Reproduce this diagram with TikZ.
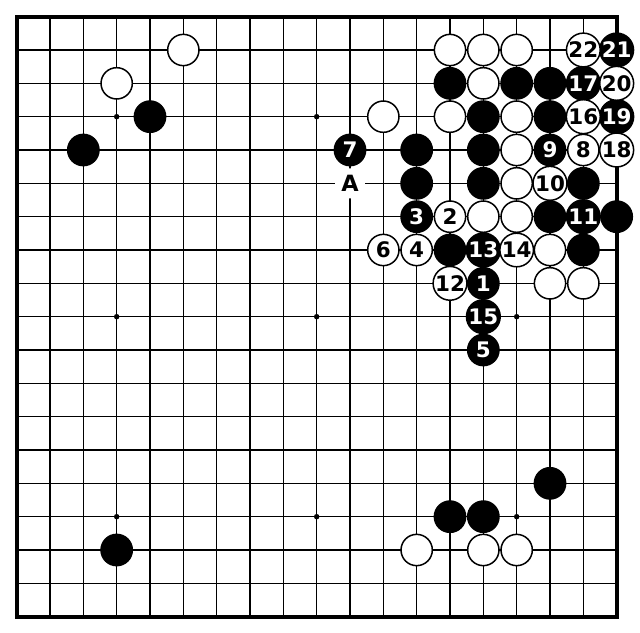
\documentclass[tikz,border=0pt]{standalone}
\usepackage{fontspec}
\setmainfont{DejaVu Sans}
\tikzset{
  gridline/.style={line width=1.5bp, black},
  border/.style={line width=3.8bp, black},
  stone/.style={circle, minimum size=31.3bp, inner sep=0pt, line width=1.5bp, draw=black,
    font=\bfseries\fontsize{21.5}{21.5}\selectfont},
  bstone/.style={stone, fill=black, text=white},
  wstone/.style={stone, fill=white, text=black},
  hoshi/.style={circle, fill=black, minimum size=5.5bp, inner sep=0pt},
  marker/.style={circle, fill=white, minimum size=30bp, inner sep=0pt,
    font=\bfseries\fontsize{22.5}{22.5}\selectfont}
}
\begin{document}
\begin{tikzpicture}[x=33.333bp, y=-33.333bp]
\useasboundingbox (0.5,0.5) rectangle (19.7,19.49);
\fill[white] (0.5,0.5) rectangle (19.7,19.49);
\foreach \i in {2,...,18} {
  \draw[gridline] (\i,1) -- (\i,19);
  \draw[gridline] (1,\i) -- (19,\i);
}
\draw[border] (1,1) rectangle (19,19);
\foreach \c in {4,10,16} \foreach \r in {4,10,16} \node[hoshi] (h\c-\r) at (\c,\r) {};
% plain white stones
\foreach \c/\r in {6/2,4/3,12/4,14/2,15/2,16/2,15/3,14/4,16/4,16/5,16/6,15/7,16/7,17/8,17/9,18/9,13/17,15/17,16/17}
  \node[wstone] (w\c-\r) at (\c,\r) {};
% plain black stones
\foreach \c/\r in {5/4,3/5,13/5,13/6,14/8,14/3,16/3,17/3,15/4,17/4,15/5,15/6,18/6,17/7,19/7,18/8,17/15,14/16,15/16,4/17}
  \node[bstone] (b\c-\r) at (\c,\r) {};
% numbered black
\foreach \c/\r/\n in {15/9/1,13/7/3,15/11/5,11/5/7,17/5/9,18/7/11,15/8/13,15/10/15,18/3/17,19/4/19,19/2/21}
  \node[bstone] (m\n) at (\c,\r) {\n};
% numbered white
\foreach \c/\r/\n in {14/7/2,13/8/4,12/8/6,18/5/8,17/6/10,14/9/12,16/8/14,18/4/16,19/5/18,19/3/20,18/2/22}
  \node[wstone] (m\n) at (\c,\r) {\n};
\node[marker] (A) at (11,6) {A};
\end{tikzpicture}
\end{document}
